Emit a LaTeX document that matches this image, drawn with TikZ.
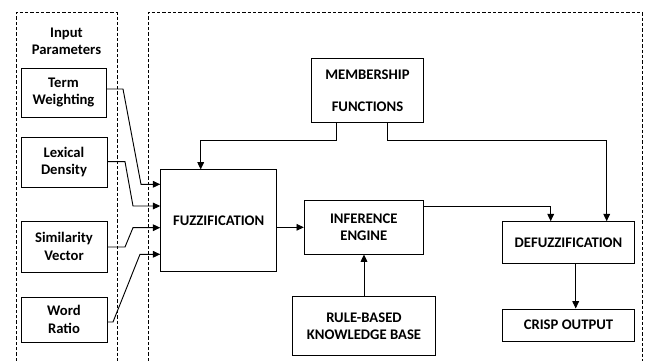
\documentclass[tikz,border=0pt]{standalone}
\usepackage{fontspec}
\setmainfont{Carlito}
\usepackage{tikz}
\usetikzlibrary{arrows.meta}

\tikzset{
  blk/.style={draw, line width=0.7pt, align=center, inner sep=0pt, font=\bfseries\fontsize{11}{13}\selectfont},
  arr/.style={line width=0.7pt, -{Triangle[length=5.5pt,width=5pt]}},
  wire/.style={line width=0.7pt},
  frame/.style={line width=0.6pt, dash pattern=on 2.5pt off 1.5pt}
}

\begin{document}
\begin{tikzpicture}[x=0.75pt,y=0.75pt,yscale=-1,xscale=1]
\useasboundingbox (0,0) rectangle (647,361);
% dashed frames
\draw [frame] (16,361) -- (16,12.7) -- (117,12.7) -- (117,361) ;
\draw [frame] (148,361) -- (148,12.7) -- (642.7,12.7) -- (642.7,361) ;
% inputs
\node (inp) at (66.5,41.5) [align=center, font=\bfseries\fontsize{11}{13}\selectfont] {Input\\Parameters};
\node (tw) at (63.5,92.5) [blk, minimum width=63.75pt, minimum height=36.75pt] {Term\\Weighting};
\node (ld) at (64,162) [blk, minimum width=64.5pt, minimum height=37.5pt] {Lexical\\Density};
\node (sv) at (64,246.5) [blk, minimum width=64.5pt, minimum height=38.25pt] {Similarity\\Vector};
\node (wr) at (64,319.5) [blk, minimum width=64.5pt, minimum height=33.75pt] {Word\\Ratio};
% fuzzy system
\node (fuzz) at (218.7,220.8) [blk, minimum width=87pt, minimum height=76.3pt] {FUZZIFICATION};
\node (inf) at (363.8,227.3) [blk, minimum width=89.25pt, minimum height=40pt] {INFERENCE\\ENGINE};
\node (mem) at (367.5,90.8) [blk, minimum width=83.7pt, minimum height=47.8pt] {MEMBERSHIP\\[11pt]FUNCTIONS};
\node (rule) at (364,326.2) [blk, minimum width=107.5pt, minimum height=44.25pt] {RULE-BASED\\KNOWLEDGE BASE};
\node (defz) at (568.5,242.5) [blk, minimum width=98.7pt, minimum height=31.2pt] {DEFUZZIFICATION};
\node (crisp) at (568.5,325) [blk, minimum width=98.7pt, minimum height=24pt] {CRISP OUTPUT};
% input lines
\draw [arr] (tw.east |- 0,89) -- (123,89) -- (141,184.3) -- (fuzz.west |- 0,184.3) ;
\draw [arr] (ld.east |- 0,161.7) -- (125,161.7) -- (133,206) -- (fuzz.west |- 0,206) ;
\draw [arr] (sv.east |- 0,247) -- (125,247) -- (133,227.7) -- (fuzz.west |- 0,227.7) ;
\draw [arr] (wr.east |- 0,322) -- (113,322) -- (140,254.3) -- (fuzz.west |- 0,254.3) ;
% flow
\draw [arr] (fuzz.east |- 0,227.3) -- (inf.west |- 0,227.3) ;
\draw [arr] (rule.north) -- (rule.north |- inf.south) ;
\draw [arr] (336.7,0 |- mem.south) |- (200.7,140) -- (200.7,0 |- fuzz.north) ;
\draw [arr] (387.3,0 |- mem.south) |- (606.7,140) -- (606.7,0 |- defz.north) ;
\draw [arr] (inf.east |- 0,206) -| (550.7,0 |- defz.north) ;
\draw [arr] (575.7,0 |- defz.south) -- (575.7,0 |- crisp.north) ;
\end{tikzpicture}
\end{document}
